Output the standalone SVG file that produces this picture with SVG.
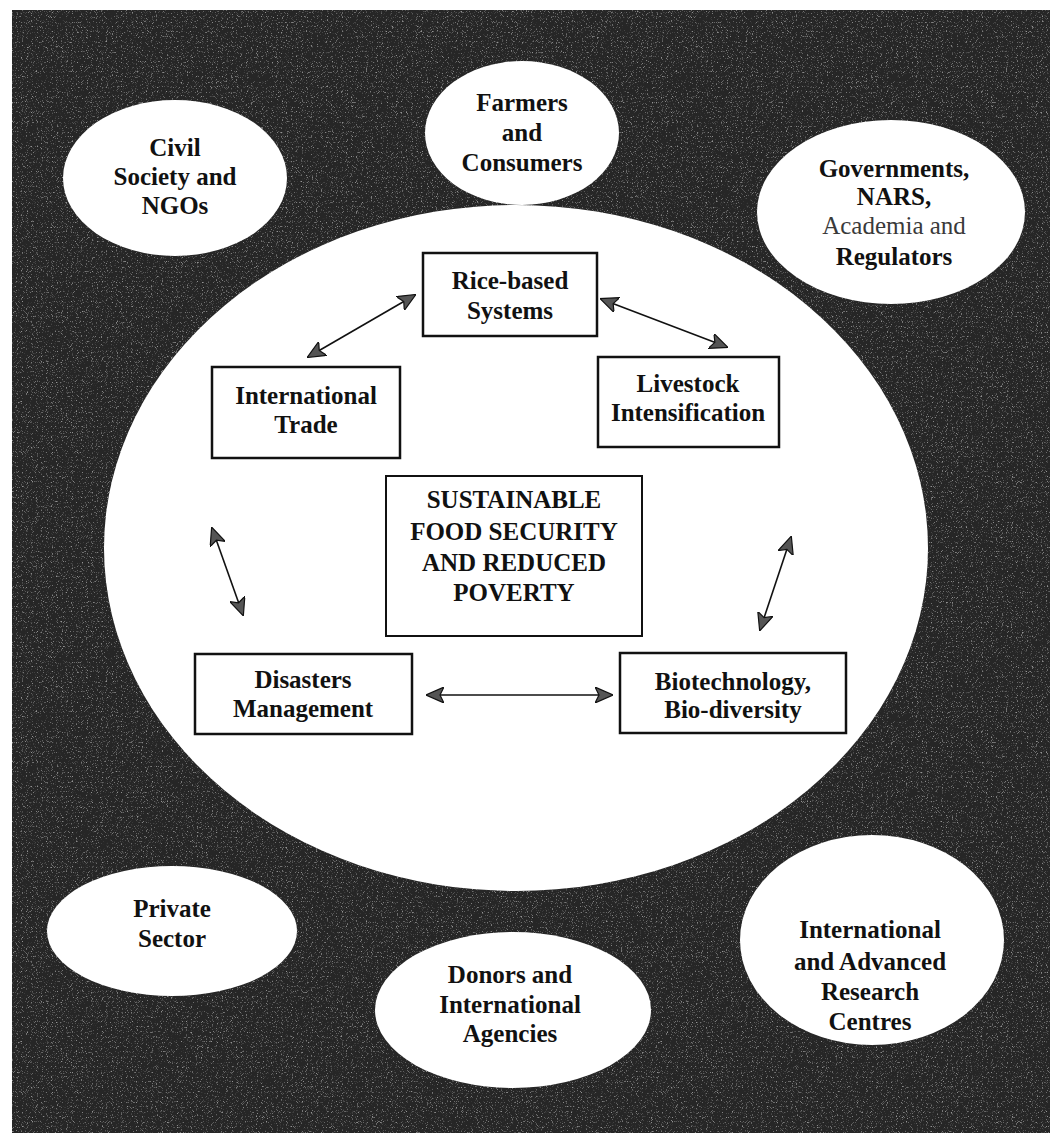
<svg xmlns="http://www.w3.org/2000/svg" width="1050" height="1133" viewBox="0 0 1050 1133">
<style>
.bg{fill:#262626}
.oval{fill:#ffffff;stroke:none}
.box{fill:#ffffff;stroke:#111;stroke-width:2.5}
.t{font-family:"Liberation Serif","Times New Roman",serif;font-weight:bold;font-size:25px;fill:#111;text-anchor:middle}
.tl{font-weight:normal;fill:#3a3a3a}
.conn{stroke:#111;stroke-width:1.6;fill:none;marker-start:url(#ah);marker-end:url(#ah)}
</style>
<defs>
<marker id="ah" viewBox="0 0 18 16" refX="17" refY="8" markerWidth="18" markerHeight="16" markerUnits="userSpaceOnUse" orient="auto-start-reverse">
<path d="M0,0 L18,8 L0,16 L4,8 z" fill="#555" stroke="#111" stroke-width="1.2"/>
</marker>
<filter id="noise" x="0" y="0" width="100%" height="100%">
<feTurbulence type="fractalNoise" baseFrequency="1.2" numOctaves="1" seed="3" result="n"/>
<feColorMatrix in="n" type="matrix" values="0 0 0 0 1  0 0 0 0 1  0 0 0 0 1  5 0 0 0 -2.9"/>
</filter>
</defs>
<rect class="bg" x="12" y="10" width="1038" height="1123"/>
<rect x="12" y="10" width="1038" height="1123" filter="url(#noise)" opacity="0.5"/>

<g id="hub">
<ellipse class="oval" cx="516" cy="548" rx="412" ry="343"/>
</g>

<g id="civil-society">
<ellipse class="oval" cx="175" cy="178" rx="112" ry="78"/>
<text class="t" x="175" y="156">Civil</text>
<text class="t" x="175" y="185">Society and</text>
<text class="t" x="175" y="214">NGOs</text>
</g>
<g id="farmers">
<ellipse class="oval" cx="522" cy="133" rx="97" ry="72"/>
<text class="t" x="522" y="111">Farmers</text>
<text class="t" x="522" y="141">and</text>
<text class="t" x="522" y="171">Consumers</text>
</g>
<g id="governments">
<ellipse class="oval" cx="891" cy="212" rx="134" ry="92"/>
<text class="t" x="894" y="177">Governments,</text>
<text class="t" x="894" y="205">NARS,</text>
<text class="t tl" x="894" y="234">Academia and</text>
<text class="t" x="894" y="265">Regulators</text>
</g>
<g id="private-sector">
<ellipse class="oval" cx="172" cy="931" rx="125" ry="65"/>
<text class="t" x="172" y="917">Private</text>
<text class="t" x="172" y="947">Sector</text>
</g>
<g id="donors">
<ellipse class="oval" cx="513" cy="1010" rx="138" ry="78"/>
<text class="t" x="510" y="983">Donors and</text>
<text class="t" x="510" y="1013">International</text>
<text class="t" x="510" y="1042">Agencies</text>
</g>
<g id="research-centres">
<ellipse class="oval" cx="872" cy="940" rx="132" ry="105"/>
<text class="t" x="870" y="938">International</text>
<text class="t" x="870" y="970">and Advanced</text>
<text class="t" x="870" y="1000">Research</text>
<text class="t" x="870" y="1030">Centres</text>
</g>

<g id="rice">
<rect class="box" x="423" y="253" width="174" height="83"/>
<text class="t" x="510" y="289">Rice-based</text>
<text class="t" x="510" y="319">Systems</text>
</g>
<g id="trade">
<rect class="box" x="212" y="367" width="188" height="91"/>
<text class="t" x="306" y="404">International</text>
<text class="t" x="306" y="433">Trade</text>
</g>
<g id="livestock">
<rect class="box" x="598" y="357" width="181" height="90"/>
<text class="t" x="688" y="392">Livestock</text>
<text class="t" x="688" y="421">Intensification</text>
</g>
<g id="goal">
<rect class="box" x="386" y="476" width="256" height="160" style="stroke-width:2"/>
<text class="t" x="514" y="508">SUSTAINABLE</text>
<text class="t" x="514" y="540">FOOD SECURITY</text>
<text class="t" x="514" y="571">AND REDUCED</text>
<text class="t" x="514" y="601">POVERTY</text>
</g>
<g id="disasters">
<rect class="box" x="195" y="654" width="217" height="80"/>
<text class="t" x="303" y="688">Disasters</text>
<text class="t" x="303" y="717">Management</text>
</g>
<g id="biotech">
<rect class="box" x="620" y="653" width="226" height="80"/>
<text class="t" x="733" y="690">Biotechnology,</text>
<text class="t" x="733" y="718">Bio-diversity</text>
</g>

<g id="connectors">
<line class="conn" x1="415" y1="295" x2="308" y2="357"/>
<line class="conn" x1="601" y1="299" x2="727" y2="347"/>
<line class="conn" x1="212" y1="528" x2="243" y2="615"/>
<line class="conn" x1="791" y1="537" x2="760" y2="630"/>
<line class="conn" x1="427" y1="695" x2="612" y2="695"/>
</g>
</svg>
